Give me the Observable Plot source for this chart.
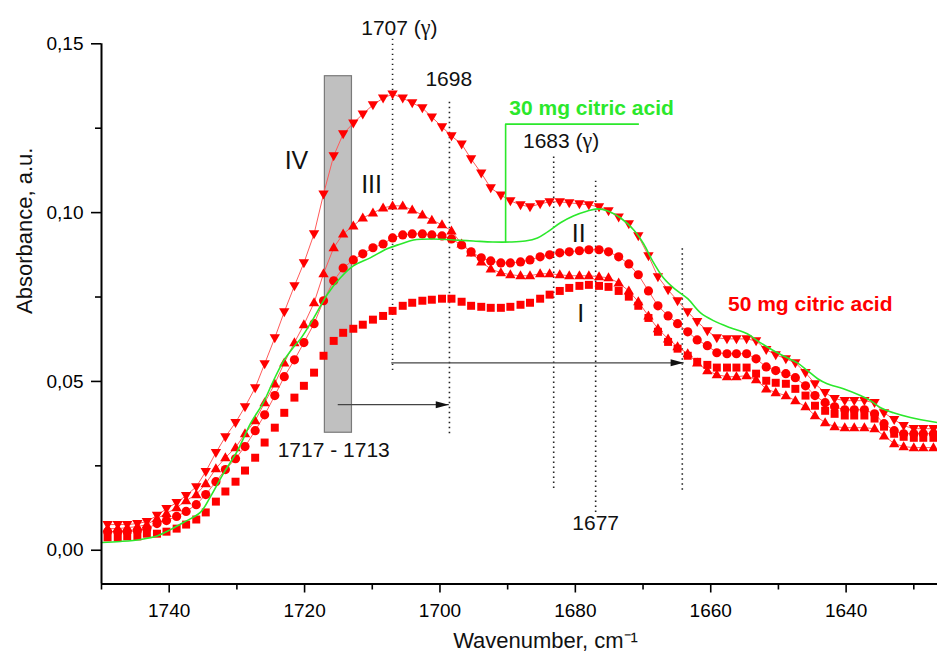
<!DOCTYPE html>
<html><head><meta charset="utf-8">
<script src="https://cdn.jsdelivr.net/npm/d3@7"></script>
<script src="https://cdn.jsdelivr.net/npm/@observablehq/plot@0.6"></script>
<style>html,body{margin:0;padding:0;background:#fff;} svg{display:block}</style>
</head><body><div id="chart"></div>
<script>
// Wavenumbers (cm-1) of the sampled spectra
const wavenumbers = [1749.1,1747.6,1746.2,1744.7,1743.3,1741.8,1740.4,1738.9,1737.5,1736.0,
1734.6,1733.1,1731.7,1730.2,1728.8,1727.3,1725.9,1724.4,1723.0,1721.5,
1720.1,1718.6,1717.2,1715.7,1714.3,1712.8,1711.4,1709.9,1708.4,1707.0,
1705.5,1704.1,1702.6,1701.2,1699.7,1698.3,1696.8,1695.4,1693.9,1692.5,
1691.0,1689.6,1688.1,1686.7,1685.2,1683.8,1682.3,1680.9,1679.4,1678.0,
1676.5,1675.1,1673.6,1672.1,1670.7,1669.2,1667.8,1666.3,1664.9,1663.4,
1662.0,1660.5,1659.1,1657.6,1656.2,1654.7,1653.3,1651.8,1650.4,1648.9,
1647.5,1646.0,1644.6,1643.1,1641.7,1640.2,1638.8,1637.3,1635.8,1634.4,
1632.9,1631.5,1630.0,1628.6,1627.1];

// Series I (squares)
const seriesI = [0.0038,0.0038,0.0041,0.0041,0.0049,0.0049,0.0055,0.0064,0.0076,0.0091,
0.0112,0.0144,0.0174,0.0203,0.0236,0.0274,0.0319,0.0363,0.0407,0.0452,
0.0487,0.0526,0.0576,0.0620,0.0644,0.0656,0.0668,0.0683,0.0694,0.0709,
0.0724,0.0733,0.0739,0.0742,0.0745,0.0745,0.0736,0.0724,0.0721,0.0718,
0.0718,0.0721,0.0727,0.0733,0.0745,0.0757,0.0768,0.0777,0.0783,0.0786,
0.0783,0.0780,0.0768,0.0751,0.0724,0.0688,0.0647,0.0617,0.0597,0.0576,
0.0558,0.0549,0.0541,0.0541,0.0541,0.0541,0.0523,0.0502,0.0496,0.0493,
0.0478,0.0458,0.0428,0.0413,0.0404,0.0399,0.0399,0.0399,0.0390,0.0366,
0.0345,0.0336,0.0333,0.0333,0.0333];

// Series II (circles)
const seriesII = [0.0055,0.0055,0.0055,0.0058,0.0064,0.0079,0.0088,0.0100,0.0115,0.0135,
0.0165,0.0203,0.0239,0.0271,0.0307,0.0354,0.0401,0.0458,0.0514,0.0564,
0.0615,0.0671,0.0739,0.0798,0.0836,0.0860,0.0878,0.0896,0.0907,0.0925,
0.0934,0.0937,0.0937,0.0934,0.0931,0.0922,0.0904,0.0884,0.0866,0.0857,
0.0851,0.0851,0.0854,0.0860,0.0869,0.0875,0.0881,0.0884,0.0887,0.0890,
0.0890,0.0884,0.0869,0.0848,0.0816,0.0768,0.0724,0.0694,0.0671,0.0647,
0.0623,0.0606,0.0585,0.0582,0.0582,0.0582,0.0567,0.0543,0.0532,0.0523,
0.0511,0.0487,0.0458,0.0437,0.0425,0.0416,0.0416,0.0416,0.0404,0.0375,
0.0354,0.0345,0.0345,0.0345,0.0345];

// Series III (up triangles)
const seriesIII = [0.0064,0.0064,0.0067,0.0070,0.0076,0.0094,0.0109,0.0126,0.0147,0.0165,
0.0197,0.0242,0.0274,0.0304,0.0345,0.0384,0.0437,0.0493,0.0555,0.0615,
0.0668,0.0733,0.0819,0.0896,0.0937,0.0961,0.0984,0.0999,0.1014,0.1020,
0.1020,0.1008,0.0993,0.0978,0.0964,0.0946,0.0907,0.0881,0.0854,0.0833,
0.0822,0.0816,0.0813,0.0813,0.0819,0.0819,0.0816,0.0813,0.0813,0.0813,
0.0810,0.0807,0.0792,0.0768,0.0736,0.0694,0.0656,0.0626,0.0603,0.0582,
0.0555,0.0532,0.0520,0.0514,0.0514,0.0517,0.0505,0.0478,0.0467,0.0458,
0.0443,0.0425,0.0399,0.0378,0.0366,0.0363,0.0363,0.0363,0.0360,0.0339,
0.0316,0.0307,0.0304,0.0304,0.0304];

// Series IV (down triangles)
const seriesIV = [0.0076,0.0076,0.0076,0.0079,0.0085,0.0103,0.0123,0.0141,0.0162,0.0188,
0.0233,0.0289,0.0336,0.0378,0.0425,0.0481,0.0552,0.0629,0.0706,0.0783,
0.0851,0.0937,0.1055,0.1168,0.1233,0.1265,0.1292,0.1319,0.1339,0.1351,
0.1339,0.1325,0.1310,0.1283,0.1254,0.1227,0.1203,0.1159,0.1117,0.1073,
0.1052,0.1035,0.1023,0.1017,0.1026,0.1032,0.1032,0.1029,0.1026,0.1023,
0.1017,0.1005,0.0987,0.0967,0.0931,0.0872,0.0810,0.0771,0.0739,0.0706,
0.0677,0.0650,0.0629,0.0626,0.0626,0.0626,0.0620,0.0594,0.0579,0.0567,
0.0555,0.0526,0.0493,0.0467,0.0449,0.0443,0.0443,0.0443,0.0437,0.0407,
0.0387,0.0369,0.0360,0.0360,0.0360];

// 30 mg citric acid (green line)
const greenX = [1750.0,1747.2,1744.2,1741.7,1739.8,1737.9,1735.4,1733.9,1732.0,1729.9,
1728.0,1726.1,1724.6,1723.1,1721.7,1720.6,1718.7,1716.6,1714.7,1712.8,
1710.3,1707.8,1705.8,1703.9,1701.0,1698.0,1695.1,1692.2,1689.6,1687.4,
1685.6,1684.1,1682.2,1680.3,1678.2,1676.7,1675.2,1673.3,1671.4,1669.9,
1668.6,1667.0,1665.5,1663.4,1661.5,1659.6,1657.1,1654.6,1652.7,1650.7,
1648.7,1647.2,1645.7,1644.2,1642.8,1640.4,1637.9,1636.4,1634.9,1633.0,
1630.5,1626.5];
const greenY = [0.0023,0.0026,0.0032,0.0043,0.0061,0.0082,0.0112,0.0159,0.0227,0.0295,
0.0375,0.0437,0.0502,0.0561,0.0600,0.0626,0.0686,0.0759,0.0807,0.0842,
0.0866,0.0893,0.0907,0.0919,0.0922,0.0919,0.0916,0.0913,0.0913,0.0916,
0.0925,0.0943,0.0970,0.0990,0.1005,0.1011,0.1005,0.0984,0.0949,0.0907,
0.0857,0.0807,0.0777,0.0745,0.0703,0.0680,0.0659,0.0641,0.0615,0.0591,
0.0570,0.0555,0.0532,0.0508,0.0493,0.0478,0.0458,0.0443,0.0422,0.0407,
0.0393,0.0378];

// Axis ticks
const yMajor = [0, 0.05, 0.10, 0.15];
const yMinor = [0.025, 0.075, 0.125];
const xMajor = [1740, 1720, 1700, 1680, 1660, 1640];
const xMinor = [1750, 1730, 1710, 1690, 1670, 1650, 1630];

// Annotations
const peakLabels = ["1707 (γ)", "1698", "1683 (γ)", "1677", "1717 - 1713"];
const peakLabelX = [1706.0, 1698.7, 1682.1, 1677.0, 1715.7];
const peakLabelY = [0.1546, 0.1395, 0.1212, 0.0079, 0.0295];
const romanLabels = ["IV", "III", "II", "I"];
const romanX = [1721.2, 1710.1, 1679.5, 1679.2];
const romanY = [0.1152, 0.1082, 0.0937, 0.0700];
const dotLineX = [1707.0, 1698.6, 1683.2, 1677.0, 1664.2];
const dotLineTop = [0.1514, 0.1330, 0.1168, 0.1093, 0.0895];
const dotLineBottom = [0.0532, 0.0345, 0.0183, 0.0112, 0.0178];
const arrowFrom = [1715.1, 1707.2];
const arrowTo = [1698.7, 1664.0];
const arrowY = [0.0431, 0.0555];
const bandX = [1717, 1713];
const bandY = [0.0348, 0.1404];
const leaderX = [1690.3, 1690.3, 1670.7];
const leaderY = [0.0913, 0.1262, 0.1262];
const legendText = ["30 mg citric acid", "50 mg citric acid"];
const legendX = [1677.6, 1645.3];
const legendY = [0.1310, 0.0729];

const RED = "#ff0000", GREEN = "#2be82b", LINE_RED = "#ff5a5a";
const rows = wavenumbers.map((x, i) => ({x, I: seriesI[i], II: seriesII[i], III: seriesIII[i], IV: seriesIV[i]}));
const green = greenX.map((x, i) => ({x, y: greenY[i]}));
const peaks = peakLabels.map((t, i) => ({t, x: peakLabelX[i], y: peakLabelY[i]}));
const romans = romanLabels.map((t, i) => ({t, x: romanX[i], y: romanY[i]}));
const dlines = dotLineX.map((x, i) => ({x, y1: dotLineBottom[i], y2: dotLineTop[i]}));
const arrows = arrowFrom.map((x1, i) => ({x1, x2: arrowTo[i], y: arrowY[i]}));
const leader = leaderX.map((x, i) => ({x, y: leaderY[i]}));
const legends = legendText.map((t, i) => ({t, x: legendX[i], y: legendY[i], c: i === 0 ? GREEN : RED}));

const triUp = {draw(ctx, size) { const r = Math.sqrt(size / Math.PI); ctx.moveTo(0, -1.2 * r); ctx.lineTo(1.15 * r, 0.8 * r); ctx.lineTo(-1.15 * r, 0.8 * r); ctx.closePath(); }};
const triDown = {draw(ctx, size) { const r = Math.sqrt(size / Math.PI); ctx.moveTo(0, 1.2 * r); ctx.lineTo(1.15 * r, -0.8 * r); ctx.lineTo(-1.15 * r, -0.8 * r); ctx.closePath(); }};
const headRight = {draw(ctx) { ctx.moveTo(0, 0); ctx.lineTo(-13, -3.5); ctx.lineTo(-13, 3.5); ctx.closePath(); }};

const fmt = d => d.toFixed(2).replace(".", ",");
const FONT = "'Liberation Sans', Arial, Helvetica, sans-serif";

const chart = Plot.plot({
  width: 937, height: 659,
  marginLeft: 101, marginRight: 0, marginTop: 43.3, marginBottom: 75.5,
  style: {fontFamily: FONT, fontSize: "19px", color: "#000", background: "#fff", overflow: "visible"},
  x: {domain: [1750, 1626.5], label: null},
  y: {domain: [-0.01, 0.15], label: null},
  marks: [
    Plot.rect([{x1: bandX[0], x2: bandX[1], y1: bandY[0], y2: bandY[1]}], {x1: "x1", x2: "x2", y1: "y1", y2: "y2", fill: "#c0c0c0", stroke: "#7a7a7a", strokeWidth: 1.2}),
    Plot.ruleX(dlines, {x: "x", y1: "y1", y2: "y2", stroke: "#222", strokeWidth: 1.6, strokeDasharray: "1.4,3.6"}),
    Plot.link(arrows, {x1: "x1", x2: "x2", y1: "y", y2: "y", stroke: "#444", strokeWidth: 1.3}),
    Plot.dot(arrows, {x: "x2", y: "y", symbol: headRight, fill: "#111", stroke: "none"}),
    Plot.line(rows, {x: "x", y: "IV", stroke: LINE_RED, strokeWidth: 1}),
    Plot.line(rows, {x: "x", y: "III", stroke: LINE_RED, strokeWidth: 1}),
    Plot.line(rows, {x: "x", y: "II", stroke: LINE_RED, strokeWidth: 1}),
    Plot.dot(rows, {x: "x", y: "I", symbol: "square", r: 4.5, fill: RED, stroke: "none"}),
    Plot.dot(rows, {x: "x", y: "II", symbol: "circle", r: 4.6, fill: RED, stroke: "none"}),
    Plot.dot(rows, {x: "x", y: "III", symbol: triUp, r: 4.5, fill: RED, stroke: "none"}),
    Plot.dot(rows, {x: "x", y: "IV", symbol: triDown, r: 4.5, fill: RED, stroke: "none"}),
    Plot.line(green, {x: "x", y: "y", stroke: GREEN, strokeWidth: 1.6, curve: "catmull-rom"}),
    Plot.line(leader, {x: "x", y: "y", stroke: GREEN, strokeWidth: 1.6}),
    Plot.text(peaks, {x: "x", y: "y", text: "t", fontSize: 21, fill: "#111"}),
    Plot.text(romans, {x: "x", y: "y", text: "t", fontSize: 25, fill: "#111"}),
    Plot.text(legends, {x: "x", y: "y", text: "t", fontSize: 21, fontWeight: "bold", fill: "c"}),
    Plot.axisY({ticks: yMajor, tickSize: 10, tickPadding: 8, tickFormat: fmt, strokeWidth: 1.6, fontSize: 19, label: null}),
    Plot.axisY({ticks: yMinor, tickSize: 6, tickFormat: () => "", strokeWidth: 1.6, label: null}),
    Plot.axisX({ticks: xMajor, tickSize: 9, tickPadding: 10, tickFormat: d => String(d), strokeWidth: 1.6, fontSize: 19, label: null}),
    Plot.axisX({ticks: xMinor, tickSize: 6, tickFormat: () => "", strokeWidth: 1.6, label: null}),
    Plot.ruleX([{x: 1750, y1: -0.01, y2: 0.15}], {x: "x", y1: "y1", y2: "y2", stroke: "#000", strokeWidth: 2}),
    Plot.ruleY([{y: -0.01}], {y: "y", stroke: "#000", strokeWidth: 2}),
    Plot.text(["Absorbance, a.u."], {text: d => d, frameAnchor: "left", dx: -77, rotate: -90, fontSize: 22, fill: "#111"}),
    Plot.text(["Wavenumber, cm⁻¹"], {text: d => d, frameAnchor: "bottom", dx: 26, dy: 64, fontSize: 22, fill: "#111"})
  ]
});

// Render the Greek gamma in a serif face, as in the original figure
d3.select(chart).selectAll("text").each(function() {
  const el = d3.select(this);
  if (this.childElementCount > 0) return;
  const s = el.text();
  if (s.includes("γ")) {
    const parts = s.split("γ");
    el.text(null);
    el.append("tspan").text(parts[0]);
    el.append("tspan").attr("font-family", "'Liberation Serif', 'DejaVu Serif', serif").attr("font-size", "1.05em").text("γ");
    el.append("tspan").text(parts[1]);
  }
});
document.getElementById("chart").appendChild(chart);
</script>
</body></html>
